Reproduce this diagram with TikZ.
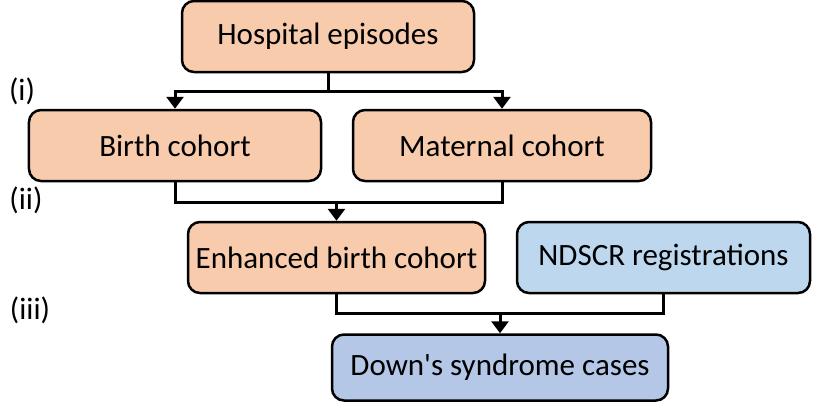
\documentclass[tikz,border=0pt]{standalone}
\usepackage{fontspec}
\setmainfont{Carlito}[Ligatures=TeXOff]
\usepackage{tikz}
\usetikzlibrary{arrows.meta}
\definecolor{peach}{RGB}{248,203,173}
\definecolor{paleblue}{RGB}{189,215,238}
\definecolor{midblue}{RGB}{180,199,231}

\tikzset{
  stage/.style={draw=black, line width=2.5bp, rounded corners=12bp, inner sep=0pt,
    minimum height=71bp, font=\fontsize{31bp}{36bp}\selectfont},
  flow/.style={line width=3bp, -{Triangle[width=17bp,length=12bp]}},
  tag/.style={font=\fontsize{31bp}{36bp}\selectfont, inner sep=0pt}
}

\begin{document}
\begin{tikzpicture}[x=1bp, y=-1bp]
			\useasboundingbox (0,0) rectangle (815,402);
			% sources
			\node[stage, fill=peach, minimum width=292bp] (hosp) at (328,36.5) {Hospital episodes};
			\node[stage, fill=peach, minimum width=292bp] (birth) at (175,145.5) {Birth cohort};
			\node[stage, fill=peach, minimum width=298bp] (mat) at (502,145.5) {Maternal cohort};
			\node[stage, fill=peach, minimum width=297bp] (enh) at (336.5,257.5) {Enhanced birth cohort};
			\node[stage, fill=paleblue, minimum width=293bp] (ndscr) at (663.5,257.5) {NDSCR registrations};
			\node[stage, fill=midblue, minimum width=336bp, minimum height=66bp] (downs) at (500,367.5) {Down's syndrome cases};
			% steps
			\node[tag] (s1) at (22,91) {(i)};
			\node[tag] (s2) at (26,200) {(ii)};
			\node[tag] (s3) at (30,310) {(iii)};
			% connectors
			\draw[flow] (hosp.south) -- ++(0,18.5) -| (birth.north);
			\draw[flow] (hosp.south) -- ++(0,18.5) -| (mat.north);
			\draw[line width=3bp] (birth.south) |- (mat.south |- 0,202) -- (mat.south);
			\draw[flow] (enh.north |- 0,202) -- (enh.north);
			\draw[line width=3bp] (enh.south) |- (ndscr.south |- 0,313) -- (ndscr.south);
			\draw[flow] (downs.north |- 0,313) -- (downs.north);
		\end{tikzpicture}
\end{document}
